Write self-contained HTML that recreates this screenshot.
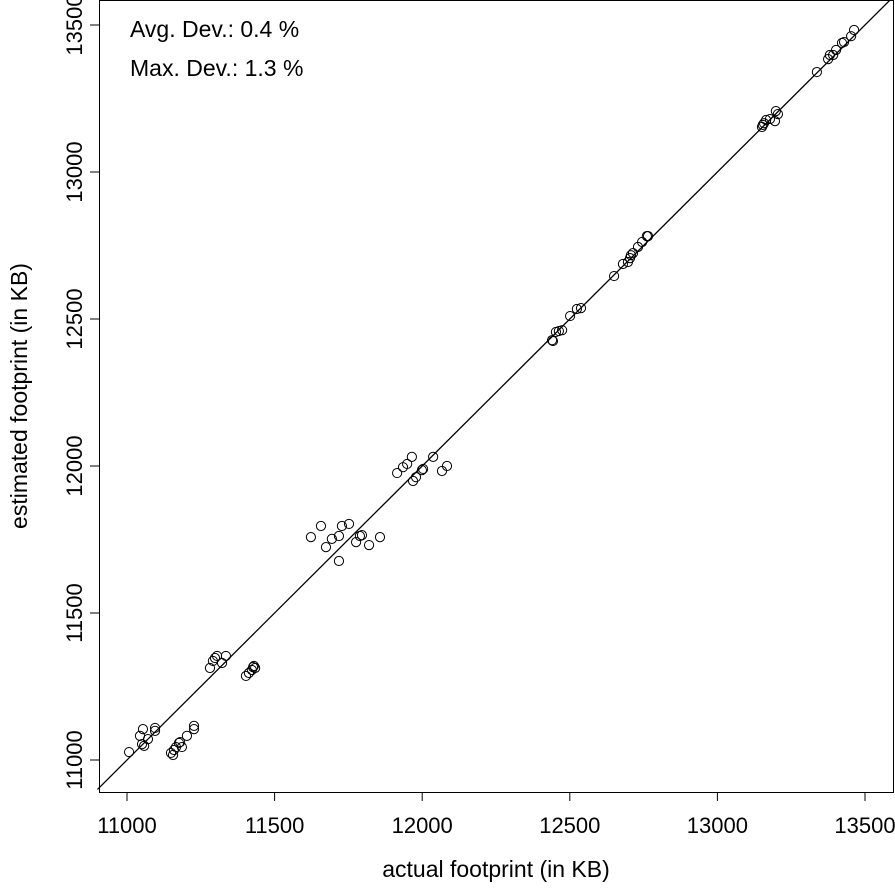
<!DOCTYPE html>
<html><head><meta charset="utf-8"><style>body{margin:0;background:#fff}svg{display:block;font-family:"Liberation Sans",Arial,sans-serif}</style></head>
<body>
<svg id="chart" width="895" height="891" viewBox="0 0 895 891"></svg>
<script>
const xs=[11007,11054,11044,11071,11051,11058,11095,11095,11156,11159,11176,11186,11180,11203,11227,11227,11149,11166,11281,11298,11305,11322,11335,11291,11403,11413,11427,11434,11430,11423,11623,11657,11694,11674,11718,11728,11752,11718,11776,11789,11796,11820,11857,11915,11935,11949,11965,11969,11979,11999,12003,12037,12067,12084,12440,12443,12453,12463,12474,12501,12524,12538,12650,12680,12697,12704,12707,12714,12731,12745,12761,12765,13151,13158,13165,13178,13195,13205,13198,13154,13337,13375,13381,13392,13402,13422,13429,13453,13463];
const ys=[11027,11105,11082,11071,11054,11048,11109,11099,11017,11034,11058,11044,11061,11082,11116,11105,11024,11044,11313,11347,11354,11330,11354,11337,11286,11296,11316,11313,11320,11306,11758,11796,11752,11724,11762,11796,11803,11677,11741,11762,11765,11731,11758,11976,11996,12007,12031,11949,11962,11986,11990,12031,11983,12000,12428,12425,12456,12459,12462,12510,12534,12537,12646,12687,12694,12707,12717,12724,12745,12762,12782,12782,13153,13166,13177,13180,13173,13197,13207,13160,13340,13384,13398,13398,13415,13439,13442,13462,13483];
const xTicks=[11000,11500,12000,12500,13000,13500];
const yTicks=[11000,11500,12000,12500,13000,13500];
const NS="http://www.w3.org/2000/svg";
const svg=document.getElementById('chart');
const L=99,R=893,T=0,B=792;
const X=v=>127+(v-11000)*738/2500;
const Y=v=>760-(v-11000)*735/2500;
function mk(t,a,p){const e=document.createElementNS(NS,t);for(const k in a)e.setAttribute(k,a[k]);(p||svg).appendChild(e);return e;}
const box=mk('rect',{x:L+0.5,y:T+0.5,width:R-L,height:B-T,fill:'none',stroke:'#000','stroke-width':1});


const diag=mk('line',{x1:X(10900),y1:Y(10900),x2:X(13600),y2:Y(13600),stroke:'#000','stroke-width':1.3});


const pts=mk('g',{});


xs.forEach((v,i)=>{const c=mk('circle',{cx:X(v),cy:Y(ys[i]),r:4.6,fill:'none',stroke:'#000','stroke-width':1},pts);

});
xTicks.forEach(v=>{const l=mk('line',{x1:X(v),y1:B,x2:X(v),y2:B+9,stroke:'#000'});


const t=mk('text',{x:X(v),y:833,'text-anchor':'middle','font-size':22});t.textContent=v;

});
yTicks.forEach(v=>{const l=mk('line',{x1:L-9,y1:Y(v),x2:L,y2:Y(v),stroke:'#000'});


const t=mk('text',{x:0,y:0,'text-anchor':'middle','font-size':22,transform:`translate(82,${Y(v)}) rotate(-90)`});t.textContent=v;

});
const xt=mk('text',{x:496,y:877,'text-anchor':'middle','font-size':23});xt.textContent='actual footprint (in KB)';


const yt=mk('text',{x:0,y:0,'text-anchor':'middle','font-size':23,transform:'translate(27,396) rotate(-90)'});yt.textContent='estimated footprint (in KB)';


const a1=mk('text',{x:130,y:37,'font-size':23});a1.textContent='Avg. Dev.: 0.4 %';


const a2=mk('text',{x:130,y:76,'font-size':23});a2.textContent='Max. Dev.: 1.3 %';


</script>
</body></html>
